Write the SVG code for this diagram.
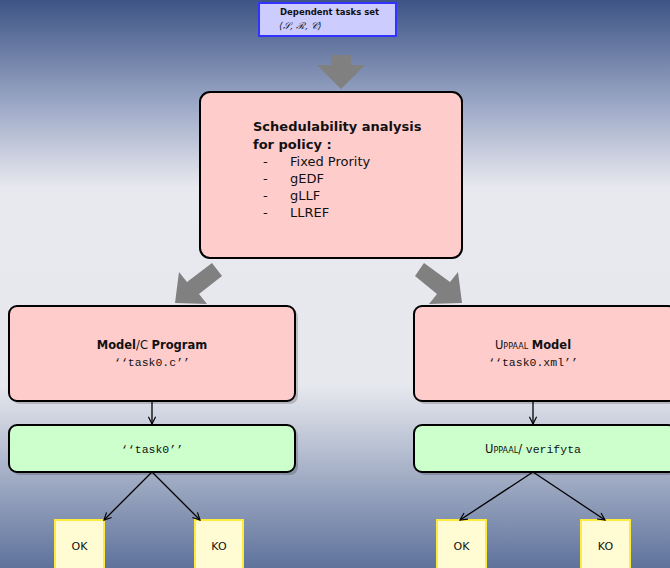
<svg xmlns="http://www.w3.org/2000/svg" width="670" height="568" viewBox="0 0 670 568">
<defs>
<linearGradient id="bg" x1="0" y1="0" x2="0" y2="1">
<stop offset="0" stop-color="#3d5485"/>
<stop offset="0.18" stop-color="#9aa6c5"/>
<stop offset="0.33" stop-color="#e8e9ef"/>
<stop offset="0.68" stop-color="#e6e8ee"/>
<stop offset="1" stop-color="#5e729b"/>
</linearGradient>
<marker id="ah" viewBox="0 0 10 10" refX="9" refY="5" markerWidth="9" markerHeight="9" markerUnits="userSpaceOnUse" orient="auto">
<path d="M1,1 L9,5 L1,9" fill="none" stroke="#000" stroke-width="1.3"/>
</marker>
</defs>
<style>
.t{font-family:"DejaVu Sans","Liberation Sans",sans-serif;fill:#111}
.m{font-family:"Liberation Mono","DejaVu Sans Mono",monospace;fill:#111}
.pink{fill:#ffcccc;stroke:#000;stroke-width:2}
.green{fill:#ccffcc;stroke:#000;stroke-width:2}
.yel{fill:#fffcd4;stroke:#ffea40;stroke-width:2}
.sh{fill:#000;opacity:0.18}
.big{fill:#808080}
.c{fill:none;stroke:#000;stroke-width:1.3}
</style>
<rect width="670" height="568" fill="url(#bg)"/>

<g id="big-arrows">
<path class="big" d="M331,55 H351 V65 H365 L341,89 L317,65 H331 Z"/>
<path class="big" d="M212,263 L222,276 L199,294 L207,304 L175,303 L179,272 L187,282 Z"/>
<path class="big" d="M424,263 L415,276 L437,294 L429,304 L462,303 L458,272 L450,282 Z"/>
</g>

<g id="top">
<rect x="259" y="3" width="137" height="33" fill="#ccccff" stroke="#3333ff" stroke-width="2"/>
<text class="t" x="280" y="15" font-size="8.5" font-weight="bold">Dependent tasks set</text>
<text x="279" y="29" font-size="9.5" font-family="'DejaVu Serif','Liberation Serif',serif" font-style="italic" fill="#111">⟨𝒮, ℛ, 𝒞⟩</text>
</g>

<g id="analysis">
<rect x="200" y="92" width="262" height="166" rx="10" class="pink"/>
<text class="t" x="253" y="131" font-size="13" font-weight="bold">Schedulability analysis</text>
<text class="t" x="253" y="149" font-size="13" font-weight="bold">for policy :</text>
<g class="t" font-size="13">
<text x="263" y="166">-</text><text x="290" y="166">Fixed Prority</text>
<text x="263" y="183">-</text><text x="290" y="183">gEDF</text>
<text x="263" y="200">-</text><text x="290" y="200">gLLF</text>
<text x="263" y="217">-</text><text x="290" y="217">LLREF</text>
</g>
</g>

<g id="model-c">
<rect x="12" y="309" width="286" height="95" rx="8" class="sh"/>
<rect x="9" y="306" width="286" height="95" rx="8" class="pink"/>
<text class="t" x="152" y="349" font-size="11.5" text-anchor="middle"><tspan font-weight="bold">Model</tspan>/C <tspan font-weight="bold">Program</tspan></text>
<text class="m" x="152" y="366" font-size="11.5" text-anchor="middle">‘‘task0.c’’</text>
</g>

<g id="uppaal-model">
<rect x="417" y="309" width="260" height="95" rx="8" class="sh"/>
<rect x="414" y="306" width="262" height="95" rx="8" class="pink"/>
<text class="t" x="533" y="349" font-size="11.5" text-anchor="middle"><tspan font-variant="small-caps">Uppaal</tspan> <tspan font-weight="bold">Model</tspan></text>
<text class="m" x="533" y="366" font-size="11.5" text-anchor="middle">‘‘task0.xml’’</text>
</g>

<g id="task0">
<rect x="12" y="428" width="286" height="47" rx="8" class="sh"/>
<rect x="9" y="425" width="286" height="47" rx="8" class="green"/>
<text class="m" x="152" y="453" font-size="11.5" text-anchor="middle">‘‘task0’’</text>
</g>

<g id="verifyta">
<rect x="417" y="428" width="260" height="47" rx="8" class="sh"/>
<rect x="414" y="425" width="262" height="47" rx="8" class="green"/>
<text x="533" y="453" font-size="11.5" text-anchor="middle"><tspan class="t" font-variant="small-caps">Uppaal</tspan><tspan class="t">/ </tspan><tspan class="m">verifyta</tspan></text>
</g>

<g id="ok1"><rect x="55" y="520" width="49" height="52" class="yel"/><text class="t" x="79.5" y="550" font-size="11" text-anchor="middle">OK</text></g>
<g id="ko1"><rect x="195" y="520" width="48" height="52" class="yel"/><text class="t" x="219" y="550" font-size="11" text-anchor="middle">KO</text></g>
<g id="ok2"><rect x="437" y="520" width="49" height="52" class="yel"/><text class="t" x="461.5" y="550" font-size="11" text-anchor="middle">OK</text></g>
<g id="ko2"><rect x="581" y="520" width="49" height="52" class="yel"/><text class="t" x="605.5" y="550" font-size="11" text-anchor="middle">KO</text></g>

<g id="connectors">
<line class="c" x1="152" y1="401" x2="152" y2="424" marker-end="url(#ah)"/>
<line class="c" x1="533" y1="401" x2="533" y2="424" marker-end="url(#ah)"/>
<line class="c" x1="152" y1="472" x2="104" y2="520" marker-end="url(#ah)"/>
<line class="c" x1="152" y1="472" x2="200" y2="520" marker-end="url(#ah)"/>
<line class="c" x1="533" y1="472" x2="460" y2="520" marker-end="url(#ah)"/>
<line class="c" x1="533" y1="472" x2="605" y2="520" marker-end="url(#ah)"/>
</g>
</svg>
